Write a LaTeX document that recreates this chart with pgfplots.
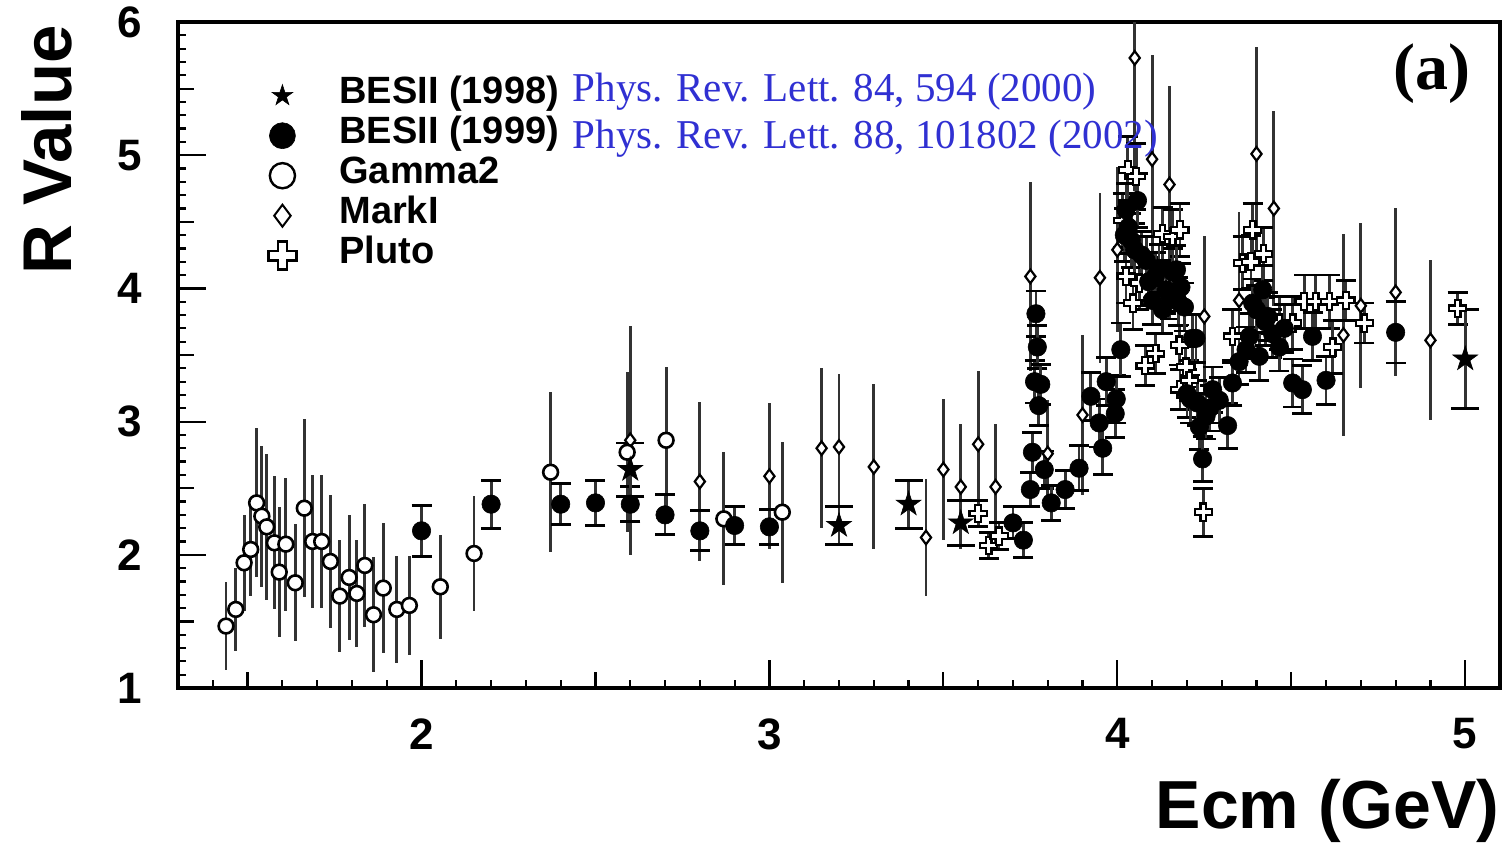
\documentclass[border=0pt]{standalone}
\usepackage{pgfplots}
\pgfplotsset{compat=1.18}
\usepackage{pgfplotstable}
\usepackage{fontspec}
\setmainfont{Liberation Sans}
\newfontfamily\serifrm{Liberation Serif}
\definecolor{refblue}{RGB}{48,48,210}
\definecolor{barcol}{RGB}{50,50,50}

\pgfdeclareplotmark{fstar}{%
 \pgfpathmoveto{\pgfpointpolar{90}{\pgfplotmarksize}}%
 \pgfpathlineto{\pgfpointpolar{126}{0.382\pgfplotmarksize}}%
 \pgfpathlineto{\pgfpointpolar{162}{\pgfplotmarksize}}%
 \pgfpathlineto{\pgfpointpolar{198}{0.382\pgfplotmarksize}}%
 \pgfpathlineto{\pgfpointpolar{234}{\pgfplotmarksize}}%
 \pgfpathlineto{\pgfpointpolar{270}{0.382\pgfplotmarksize}}%
 \pgfpathlineto{\pgfpointpolar{306}{\pgfplotmarksize}}%
 \pgfpathlineto{\pgfpointpolar{342}{0.382\pgfplotmarksize}}%
 \pgfpathlineto{\pgfpointpolar{18}{\pgfplotmarksize}}%
 \pgfpathlineto{\pgfpointpolar{54}{0.382\pgfplotmarksize}}%
 \pgfpathclose\pgfusepathqfillstroke}

\pgfdeclareplotmark{pcross}{%
 \pgfpathmoveto{\pgfpoint{-0.33\pgfplotmarksize}{\pgfplotmarksize}}%
 \pgfpathlineto{\pgfpoint{0.33\pgfplotmarksize}{\pgfplotmarksize}}%
 \pgfpathlineto{\pgfpoint{0.33\pgfplotmarksize}{0.33\pgfplotmarksize}}%
 \pgfpathlineto{\pgfpoint{\pgfplotmarksize}{0.33\pgfplotmarksize}}%
 \pgfpathlineto{\pgfpoint{\pgfplotmarksize}{-0.33\pgfplotmarksize}}%
 \pgfpathlineto{\pgfpoint{0.33\pgfplotmarksize}{-0.33\pgfplotmarksize}}%
 \pgfpathlineto{\pgfpoint{0.33\pgfplotmarksize}{-\pgfplotmarksize}}%
 \pgfpathlineto{\pgfpoint{-0.33\pgfplotmarksize}{-\pgfplotmarksize}}%
 \pgfpathlineto{\pgfpoint{-0.33\pgfplotmarksize}{-0.33\pgfplotmarksize}}%
 \pgfpathlineto{\pgfpoint{-\pgfplotmarksize}{-0.33\pgfplotmarksize}}%
 \pgfpathlineto{\pgfpoint{-\pgfplotmarksize}{0.33\pgfplotmarksize}}%
 \pgfpathlineto{\pgfpoint{-0.33\pgfplotmarksize}{0.33\pgfplotmarksize}}%
 \pgfpathclose\pgfusepathqfillstroke}

\pgfplotstableread{
x y e
2.60 2.86 0.86
2.80 2.55 0.60
3.00 2.59 0.55
3.15 2.80 0.60
3.20 2.81 0.55
3.30 2.66 0.62
3.45 2.13 0.44
3.50 2.64 0.53
3.55 2.51 0.47
3.60 2.83 0.55
3.65 2.51 0.47
3.75 4.09 0.71
3.80 2.76 0.40
3.90 3.05 0.60
3.95 4.08 0.64
4.00 4.29 0.62
4.05 5.73 1.00
4.10 4.97 0.78
4.15 4.78 0.74
4.25 3.79 0.60
4.35 3.91 0.66
4.40 5.01 0.80
4.45 4.60 0.73
4.65 3.65 0.76
4.70 3.87 0.62
4.80 3.97 0.63
4.90 3.61 0.60
}\markI

\pgfplotstableread{
x y e
1.438 1.465 0.33
1.466 1.59 0.31
1.490 1.94 0.36
1.509 2.04 0.35
1.526 2.39 0.56
1.541 2.29 0.53
1.555 2.21 0.55
1.577 2.09 0.50
1.591 1.87 0.49
1.610 2.08 0.50
1.637 1.79 0.44
1.663 2.35 0.67
1.687 2.10 0.50
1.713 2.10 0.50
1.738 1.95 0.50
1.765 1.69 0.42
1.792 1.83 0.47
1.814 1.71 0.40
1.837 1.92 0.46
1.862 1.55 0.43
1.890 1.75 0.49
1.929 1.59 0.40
1.965 1.62 0.37
2.054 1.76 0.39
2.151 2.01 0.43
2.371 2.62 0.60
2.591 2.77 0.60
2.703 2.86 0.55
2.869 2.27 0.50
3.037 2.32 0.53
}\gammaII

\pgfplotstableread{
x y e
3.600 2.31 0.10
3.630 2.07 0.10
3.660 2.14 0.10
4.015 4.51 0.20
4.025 4.09 0.20
4.030 4.89 0.25
4.045 3.89 0.20
4.054 4.84 0.25
4.063 4.04 0.20
4.080 3.42 0.15
4.110 3.51 0.15
4.130 4.41 0.20
4.159 4.39 0.20
4.178 3.575 0.15
4.180 4.44 0.20
4.180 3.24 0.15
4.197 3.41 0.15
4.207 3.31 0.15
4.247 2.32 0.18
4.331 3.64 0.20
4.360 4.19 0.20
4.384 4.20 0.20
4.389 4.44 0.20
4.420 4.26 0.20
4.466 3.74 0.20
4.504 3.74 0.20
4.537 3.90 0.20
4.570 3.90 0.20
4.610 3.90 0.20
4.619 3.56 0.20
4.657 3.91 0.15
4.710 3.74 0.15
4.978 3.85 0.12
}\pluto

\pgfplotstableread{
x y e
2.00 2.18 0.19
2.20 2.38 0.18
2.40 2.38 0.155
2.50 2.39 0.17
2.60 2.38 0.13
2.70 2.30 0.15
2.80 2.18 0.15
2.90 2.22 0.145
3.00 2.21 0.13
3.700 2.24 0.12
3.730 2.11 0.13
3.750 2.49 0.13
3.756 2.77 0.15
3.762 3.30 0.16
3.766 3.81 0.17
3.770 3.56 0.16
3.774 3.12 0.15
3.780 3.28 0.15
3.790 2.64 0.14
3.810 2.39 0.13
3.850 2.49 0.14
3.890 2.65 0.17
3.924 3.19 0.18
3.948 2.99 0.18
3.958 2.80 0.20
3.968 3.30 0.18
3.994 3.06 0.18
3.997 3.17 0.18
4.010 3.54 0.20
4.020 4.40 0.20
4.025 4.59 0.20
4.032 4.46 0.20
4.040 4.36 0.20
4.050 4.29 0.20
4.058 4.66 0.20
4.070 4.25 0.18
4.083 4.21 0.18
4.090 4.05 0.18
4.100 3.91 0.18
4.110 4.09 0.18
4.120 4.15 0.18
4.130 3.84 0.18
4.140 3.99 0.18
4.150 3.95 0.18
4.160 4.12 0.18
4.170 4.14 0.18
4.175 3.90 0.18
4.183 4.01 0.18
4.193 3.86 0.18
4.200 3.21 0.18
4.210 3.17 0.18
4.216 3.625 0.18
4.226 3.625 0.18
4.230 3.14 0.17
4.236 2.96 0.17
4.245 2.72 0.17
4.255 3.04 0.17
4.265 3.10 0.17
4.274 3.24 0.17
4.293 3.16 0.17
4.317 2.97 0.17
4.331 3.29 0.17
4.350 3.45 0.17
4.370 3.54 0.17
4.380 3.64 0.17
4.389 3.89 0.18
4.400 3.84 0.18
4.408 3.49 0.18
4.418 3.99 0.18
4.425 3.75 0.18
4.432 3.79 0.18
4.446 3.66 0.18
4.466 3.56 0.18
4.480 3.70 0.18
4.504 3.29 0.18
4.532 3.24 0.18
4.561 3.64 0.18
4.600 3.31 0.18
4.800 3.67 0.23
}\besIIb

\pgfplotstableread{
x y e
2.60 2.64 0.20
3.20 2.22 0.14
3.40 2.38 0.18
3.55 2.24 0.17
5.00 3.47 0.37
}\besIIa

\begin{document}
\begin{tikzpicture}
\useasboundingbox (0,0) rectangle (752pt,421.5pt);
\begin{axis}[
  at={(89pt,77.5pt)}, anchor=south west,
  scale only axis, width=661pt, height=333pt,
  xmin=1.3, xmax=5.1, ymin=1, ymax=6,
  xtick={2,3,4,5}, ytick={1,2,3,4,5,6},
  minor xtick={1.3,1.4,...,5.1},
  minor ytick={1.1,1.2,...,5.95},
  extra x ticks={1.5,2.5,3.5,4.5}, extra x tick labels={},
  extra x tick style={major tick length=8pt},
  extra y ticks={1.5,2.5,3.5,4.5,5.5}, extra y tick labels={},
  extra y tick style={major tick length=8pt},
  tick pos=left, tick align=inside,
  major tick length=14pt, minor tick length=4pt,
  every tick/.style={line width=1.1pt, black},
  axis line style={line width=1.6pt},
  /pgf/number format/assume math mode=true,
  xticklabel style={inner sep=0pt, anchor=north, yshift=-15pt, font=\fontsize{22}{22}\selectfont\bfseries},
  yticklabel style={inner sep=0pt, anchor=east, xshift=-18pt, font=\fontsize{22}{22}\selectfont\bfseries},
  xlabel={Ecm (GeV)},
  xlabel style={at={([yshift=-45.5pt]rel axis cs:1,0)}, anchor=north east, inner sep=0pt, font=\fontsize{34}{34}\selectfont\bfseries},
  ylabel={R Value},
  ylabel style={at={([xshift=-53pt,yshift=-1.5pt]rel axis cs:0,1)}, anchor=base east, inner sep=0pt, font=\fontsize{34.5}{34.5}\selectfont\bfseries},
  legend style={draw=none, fill=none, at={(rel axis cs:0.0681,0.92)}, anchor=north west, inner sep=0pt, row sep=0pt, column sep=21.5pt,
     font=\fontsize{19}{19}\selectfont\bfseries, nodes={inner sep=0pt, text height=14pt, text depth=6pt}},
  legend cell align=left,
]
\addlegendimage{only marks, mark=fstar, mark size=5.5pt, mark options={fill=black, draw=black, line width=0.3pt}}
\addlegendentry{BESII (1998)}
\addlegendimage{only marks, mark=*, mark size=6.5pt, mark options={fill=black, draw=black, line width=0.3pt}}
\addlegendentry{BESII (1999)}
\addlegendimage{only marks, mark=*, mark size=6.3pt, mark options={fill=white, draw=black, line width=1.2pt}}
\addlegendentry{Gamma2}
\addlegendimage{only marks, mark=diamond*, mark size=5.5pt, mark options={fill=white, draw=black, line width=1pt}}
\addlegendentry{MarkI}
\addlegendimage{only marks, mark=pcross, mark size=7pt, mark options={fill=white, draw=black, line width=1.2pt}}
\addlegendentry{Pluto}

% Mark I
\addplot[only marks, forget plot, mark=diamond*, mark size=3.4pt,
  mark options={fill=white, draw=black, line width=1.1pt},
  error bars/.cd, y dir=both, y explicit, error mark=none,
  error bar style={line width=1.4pt, barcol}]
  table[x=x, y=y, y error=e] {\markI};
% Gamma2
\addplot[only marks, forget plot, mark=*, mark size=3.7pt,
  mark options={fill=white, draw=black, line width=1.3pt},
  error bars/.cd, y dir=both, y explicit, error mark=none,
  error bar style={line width=1.4pt, barcol}]
  table[x=x, y=y, y error=e] {\gammaII};
% Pluto
\addplot[only marks, forget plot, mark=pcross, mark size=4.3pt,
  mark options={fill=white, draw=black, line width=1.1pt},
  error bars/.cd, y dir=both, y explicit, error mark=-,
  error mark options={rotate=90, mark size=5pt, line width=1.4pt, black},
  error bar style={line width=1.4pt, barcol}]
  table[x=x, y=y, y error=e] {\pluto};
% BESII 1999
\addplot[only marks, forget plot, mark=*, mark size=4.6pt,
  mark options={fill=black, draw=black, line width=0.3pt},
  error bars/.cd, y dir=both, y explicit, error mark=-,
  error mark options={rotate=90, mark size=5pt, line width=1.4pt, black},
  error bar style={line width=1.4pt, barcol}]
  table[x=x, y=y, y error=e] {\besIIb};
% BESII 1998
\addplot[only marks, forget plot, mark=fstar, mark size=6.5pt,
  mark options={fill=black, draw=black, line width=0.3pt},
  error bars/.cd, y dir=both, y explicit, error mark=-,
  error mark options={rotate=90, mark size=7pt, line width=1.4pt, black},
  error bar style={line width=1.4pt, barcol}]
  table[x=x, y=y, y error=e] {\besIIa};

\node[anchor=base west, inner sep=0pt, text=refblue, font=\serifrm\fontsize{20.5}{20.5}\selectfont] at (axis cs:2.434,5.40) {Phys. Rev. Lett. 84, 594 (2000)};
\node[anchor=base west, inner sep=0pt, text=refblue, font=\serifrm\fontsize{20.5}{20.5}\selectfont] at (axis cs:2.434,5.047) {Phys. Rev. Lett. 88, 101802 (2002)};
\node[anchor=base east, inner sep=0pt, font=\serifrm\bfseries\fontsize{33}{33}\selectfont] at (axis cs:5.017,5.49) {(a)};
\end{axis}
\end{tikzpicture}
\end{document}
